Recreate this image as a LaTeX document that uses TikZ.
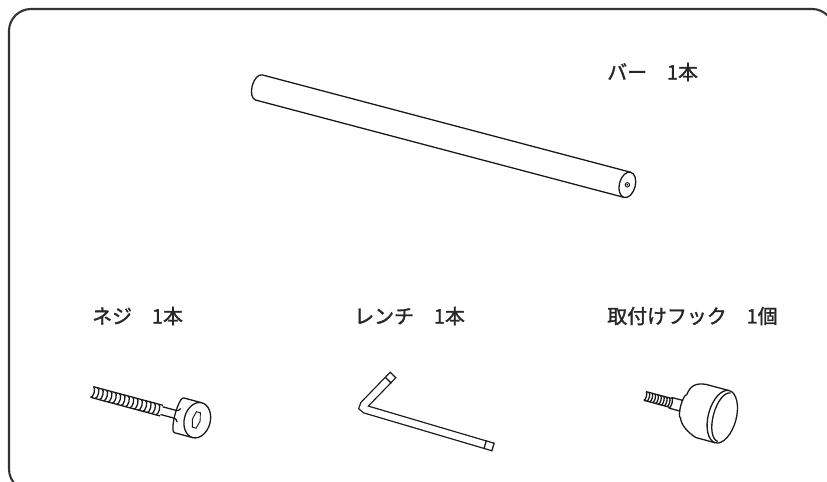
\documentclass[tikz,border=0pt]{standalone}
\usepackage{fontspec}
\newfontfamily\jp{Noto Sans CJK JP}[FakeBold=1.6]
\usetikzlibrary{calc}

\begin{document}
\begin{tikzpicture}[x=0.03cm,y=-0.03cm,
	pen/.style={line width=1.1pt,draw=black!90},
	itemname/.style={font=\jp\fontsize{17}{20}\selectfont,text=black!85,inner sep=0pt,anchor=west}]
\useasboundingbox (0,0) rectangle (827,482);
\draw[line width=1.8pt,black!80,rounded corners=0.66cm] (9,9) rectangle (834,491);

% bar
\begin{scope}[shift={(259,87.5)},rotate=-14.8]
\draw[pen] (0,-13) -- (381,-13)
	(0,13) -- (381,13)
	(0,-13) arc[start angle=-90,end angle=-270,x radius=7,y radius=13];
\draw[pen,fill=white] (381,0) ellipse[x radius=8,y radius=13];
\draw[pen,line width=0.8pt] (381,0) circle[radius=2.2];
\fill[black!90] (381,0) circle[radius=1];
\end{scope}

% screw
\begin{scope}[shift={(92,392)},rotate=-15]
\draw[pen] (0,-5.5) -- (72,-5.5) (0,5.5) -- (72,5.5);
\foreach \u in {0,4.5,...,68}
	\draw[pen] (\u,-5.5) arc[start angle=-90,end angle=90,x radius=2.2,y radius=5.5];
\draw[pen] (72,-4) -- (84,-4) .. controls (88,-4) .. (90,-7)
	(72,4) -- (84,4) .. controls (88,4) .. (90,7);
\draw[pen] (90,-18) arc[start angle=-90,end angle=-270,x radius=4,y radius=18]
	(90,-18) -- (109,-18) (90,18) -- (109,18);
\draw[pen,fill=white] (109,0) ellipse[x radius=13,y radius=18];
\draw[pen,line width=0.8pt] (106,-8) -- (110,-8) -- (112,0) -- (110,8) -- (106,8) -- (104,0) -- cycle;
\end{scope}

% wrench
\coordinate (T1) at (393,375);
\coordinate (B) at (361,408);
\coordinate (T2) at (493,447);
\draw[line width=1.1pt,black!90,double=white,double distance=5.5pt,rounded corners=4pt] (T1) -- (B) -- (T2);
\coordinate (T1b) at ($(T1)!6pt!(B)$);
\coordinate (T2b) at ($(T2)!7pt!(B)$);
\draw[pen] ($(T1)!3.85pt!90:(B)$) -- ($(T1)!3.85pt!-90:(B)$)
	($(T1b)!3.85pt!90:(B)$) -- ($(T1b)!3.85pt!-90:(B)$);
\draw[pen] ($(T2)!3.85pt!90:(B)$) -- ($(T2)!3.85pt!-90:(B)$)
	($(T2b)!3.85pt!90:(B)$) -- ($(T2b)!3.85pt!-90:(B)$);

% hook
\begin{scope}[shift={(645,396)},rotate=-15]
\draw[pen] (0,-4.5) -- (26,-4.5) (0,4.5) -- (26,4.5);
\foreach \u in {0,3,...,24}
	\draw[pen] (\u,-4.5) arc[start angle=-90,end angle=90,x radius=1.5,y radius=4.5];
\draw[pen] (26,-5.5) -- (38,-5.5) (26,5.5) -- (38,5.5)
	(26,-5.5) arc[start angle=-90,end angle=90,x radius=2,y radius=5.5];
\draw[pen] (40,-12) arc[start angle=-90,end angle=-270,x radius=3,y radius=12];
\draw[pen] (40,-12) .. controls (41,-22) and (46,-26) .. (56,-27) -- (80,-27)
	(40,12) .. controls (42,18) and (50,24) .. (60,27) -- (80,27);
\draw[pen,fill=white] (80,0) ellipse[x radius=14,y radius=27];
\draw[pen] (82,-25) arc[start angle=-90,end angle=-270,x radius=11,y radius=25];
\end{scope}

\node[itemname] (barname) at (607,72) {バー　1本};
\node[itemname] (screwname) at (92,316) {ネジ　1本};
\node[itemname] (wrenchname) at (354,316) {レンチ　1本};
\node[itemname] (hookname) at (607,316) {取付けフック　1個};
\end{tikzpicture}
\end{document}
